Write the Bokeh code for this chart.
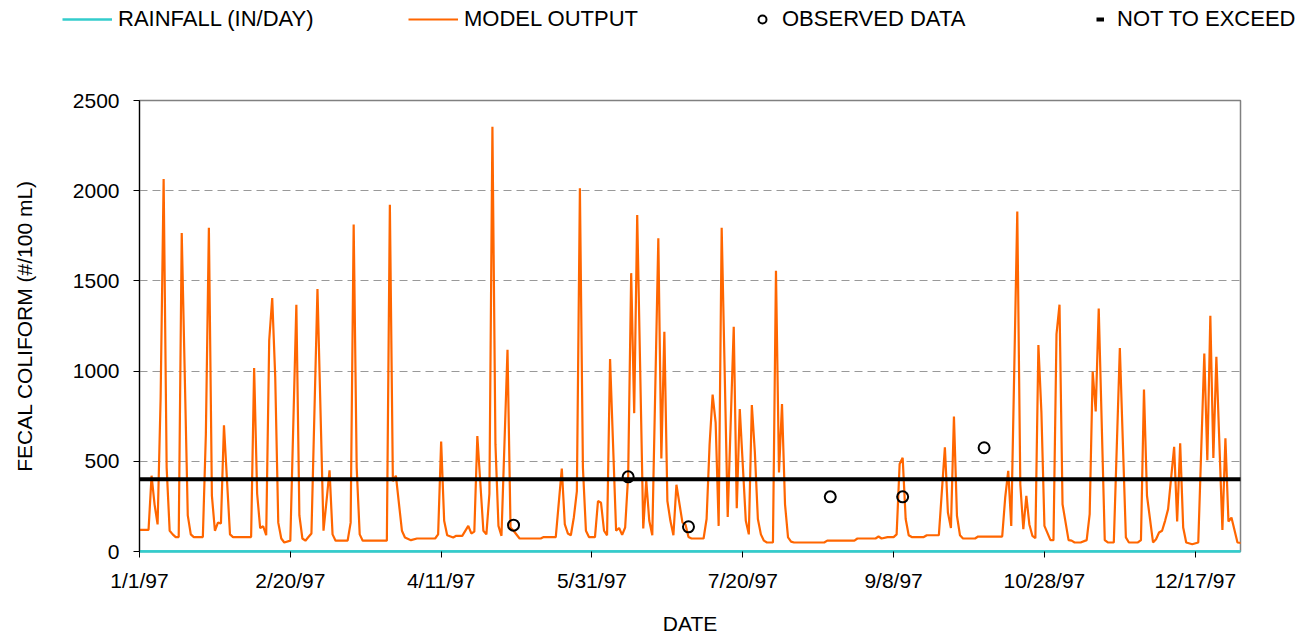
from bokeh.plotting import figure
from bokeh.models import Legend, LegendItem, FixedTicker, Range1d
from bokeh.embed import file_html
from bokeh.resources import INLINE

# ---- data (day offsets from 1/1/97) ----
DAY = [-2, 0, 3, 4, 5, 6, 7, 8, 9, 10, 11, 12, 13, 14, 16, 17, 18, 21, 22, 23, 24, 25, 26, 27, 28, 30, 31, 37, 38, 39,
       40, 41, 42, 43, 44, 45, 46, 47, 48, 50, 52, 53, 54, 55, 56, 57, 59, 61, 62, 63, 64, 65, 69, 70, 71, 72, 73, 74, 82, 83,
       84, 85, 87, 88, 90, 92, 98, 99, 100, 101, 102, 104, 105, 107, 109, 110, 111, 112, 114, 115, 116, 117, 118, 119, 120, 122, 123, 124, 126, 133,
       134, 138, 140, 141, 142, 143, 144, 145, 146, 147, 148, 149, 151, 152, 153, 154, 155, 156, 158, 159, 160, 161, 162, 163, 164, 165, 167, 168, 169, 170,
       172, 173, 174, 175, 176, 177, 178, 180, 181, 182, 183, 187, 188, 189, 190, 191, 192, 193, 195, 197, 198, 199, 201, 202, 203, 204, 205, 206, 207, 208,
       210, 211, 212, 213, 214, 215, 216, 217, 227, 228, 237, 238, 244, 245, 246, 248, 250, 251, 252, 253, 254, 255, 256, 260, 261, 265, 267, 268, 269, 270,
       271, 272, 273, 277, 278, 286, 287, 288, 289, 291, 292, 293, 294, 295, 296, 297, 298, 299, 300, 302, 303, 304, 305, 306, 308, 309, 310, 312, 314, 315,
       316, 317, 318, 320, 321, 323, 325, 327, 328, 331, 332, 333, 334, 336, 337, 338, 339, 340, 341, 343, 344, 345, 346, 347, 349, 351, 353, 354, 355, 356,
       357, 359, 360, 361, 362, 364, 368]
MODEL = [120, 120, 120, 420, 260, 150, 850, 2065, 465, 115, 95, 80, 80, 1765, 200, 95, 80, 80, 650, 1795, 310, 115, 160, 155, 700, 95, 80, 80, 1017, 320,
         130, 140, 90, 1170, 1405, 965, 160, 72, 50, 60, 1368, 200, 72, 60, 80, 100, 1455, 115, 280, 450, 95, 60, 60, 160, 1813, 465, 95, 60, 60, 1922,
         390, 420, 115, 78, 63, 72, 72, 95, 610, 170, 90, 78, 87, 87, 142, 100, 110, 640, 115, 95, 320, 2355, 595, 142, 87, 1118, 133, 115, 72, 72,
         80, 80, 460, 150, 100, 90, 190, 335, 2013, 465, 115, 80, 80, 280, 270, 115, 90, 1067, 115, 130, 92, 133, 420, 1543, 767, 1865, 128, 392, 170, 90,
         1736, 516, 1218, 280, 170, 90, 370, 160, 150, 80, 72, 72, 180, 595, 870, 715, 142, 1795, 192, 1246, 240, 790, 170, 95, 812, 550, 180, 95, 60, 50,
         50, 1556, 438, 817, 262, 78, 55, 50, 50, 60, 60, 72, 72, 83, 72, 80, 80, 95, 485, 520, 180, 90, 80, 80, 90, 90, 577, 216, 130, 748,
         198, 90, 72, 72, 83, 83, 300, 447, 142, 1884, 373, 124, 308, 150, 87, 74, 1144, 770, 142, 63, 63, 1205, 1368, 262, 63, 60, 50, 50, 63, 207,
         998, 776, 1347, 63, 50, 50, 1128, 78, 50, 50, 63, 898, 309, 50, 68, 105, 115, 170, 235, 580, 166, 600, 133, 50, 40, 50, 1098, 506, 1307, 518,
         1080, 120, 628, 166, 188, 50, 40]
OBS_DAY = [124, 162, 182, 229, 253, 280]
OBS = [146, 414, 137, 303, 303, 575]
RAIN_DAY = [0, 365]
RAIN = [0, 0]
LIMIT_DAY = [-3, 368]
LIMIT = [400, 400]
TICK_DAYS = [0, 50, 100, 150, 200, 250, 300, 350]
TICK_LABELS = ["1/1/97", "2/20/97", "4/11/97", "5/31/97", "7/20/97", "9/8/97", "10/28/97", "12/17/97"]
Y_TICKS = [0, 500, 1000, 1500, 2000, 2500]
SERIES = ["RAINFALL (IN/DAY)", "MODEL OUTPUT", "OBSERVED DATA", "NOT TO EXCEED"]

FONT = "Liberation Sans"
RAIN_C, MODEL_C = "#33CCCC", "#FF6600"
NAN = float("nan")

p = figure(frame_width=1101, frame_height=451,
           min_border_left=139, min_border_top=40, min_border_right=62, min_border_bottom=74,
           x_range=Range1d(0, 365), y_range=Range1d(0, 2500),
           output_backend="svg", toolbar_location=None)
p.background_fill_color = "white"
p.border_fill_color = "white"
p.outline_line_color = "#808080"
p.outline_line_width = 1.5

# grid
p.xgrid.visible = False
p.ygrid.ticker = FixedTicker(ticks=Y_TICKS)
p.ygrid.grid_line_color = "#999999"
p.ygrid.grid_line_dash = "8 5"
p.ygrid.grid_line_width = 1.2

# y axis
ya = p.yaxis[0]
ya.ticker = FixedTicker(ticks=Y_TICKS)
ya.axis_line_color = "black"
ya.axis_line_width = 1.2
ya.major_tick_line_color = "black"
ya.major_tick_out = 6
ya.major_tick_in = 0
ya.minor_tick_line_color = None
ya.major_label_text_font = FONT
ya.major_label_text_font_size = "21px"
ya.major_label_text_color = "black"
ya.major_label_standoff = 14
ya.axis_label = "FECAL COLIFORM (#/100 mL)"
ya.axis_label_text_font = FONT
ya.axis_label_text_font_size = "21px"
ya.axis_label_text_font_style = "normal"
ya.axis_label_text_color = "black"
ya.axis_label_standoff = 34

# x axis
xa = p.xaxis[0]
xa.ticker = FixedTicker(ticks=TICK_DAYS)
xa.major_label_overrides = {d: s for d, s in zip(TICK_DAYS, TICK_LABELS)}
xa.axis_line_color = RAIN_C
xa.axis_line_width = 2.5
xa.major_tick_line_color = "black"
xa.major_tick_out = 6
xa.major_tick_in = 0
xa.minor_tick_line_color = None
xa.major_label_text_font = FONT
xa.major_label_text_font_size = "21px"
xa.major_label_text_color = "black"
xa.major_label_standoff = 11
xa.axis_label = "DATE"
xa.axis_label_text_font = FONT
xa.axis_label_text_font_size = "21px"
xa.axis_label_text_font_style = "normal"
xa.axis_label_text_color = "black"
xa.axis_label_standoff = 17

# glyphs
p.line(RAIN_DAY, RAIN, line_color=RAIN_C, line_width=2.5)
p.line(DAY, MODEL, line_color=MODEL_C, line_width=2.2)
p.line(LIMIT_DAY, LIMIT, line_color="black", line_width=4)
p.scatter(OBS_DAY, OBS, marker="circle", size=11, line_color="black",
          line_width=2, fill_color=None)

# ---- legend strip (separate root above the chart) ----
lg = figure(width=1302, height=60, x_range=Range1d(0, 1), y_range=Range1d(0, 1),
            min_border=0, output_backend="svg", toolbar_location=None)
lg.axis.visible = False
lg.grid.visible = False
lg.outline_line_color = None
lg.background_fill_color = "white"
lg.border_fill_color = "white"

k_rain = lg.line([NAN], [NAN], line_color=RAIN_C, line_width=2.5)
k_model = lg.line([NAN], [NAN], line_color=MODEL_C, line_width=2.2)
k_obs = lg.scatter([NAN], [NAN], marker="circle", size=9, line_color="black", line_width=2, fill_color=None)
k_limit = lg.line([NAN], [NAN], line_color="black", line_width=4)

def mk_legend(label, renderer, x, y, gw, standoff):
    leg = Legend(items=[LegendItem(label=label, renderers=[renderer])],
                 location=(x, y), orientation="horizontal",
                 glyph_width=gw, glyph_height=20, label_standoff=standoff,
                 label_text_font=FONT, label_text_font_size="22px",
                 label_text_color="black", padding=0, margin=0, spacing=0,
                 border_line_alpha=0, background_fill_alpha=0)
    lg.add_layout(leg)

mk_legend(SERIES[0], k_rain, 62, 28, 50, 6)
mk_legend(SERIES[1], k_model, 408, 28, 50, 6)
mk_legend(SERIES[2], k_obs, 752, 28, 20, 10)
mk_legend(SERIES[3], k_limit, 1096, 28, 8, 13)

open("out.html", "w").write(file_html([lg, p], INLINE))
